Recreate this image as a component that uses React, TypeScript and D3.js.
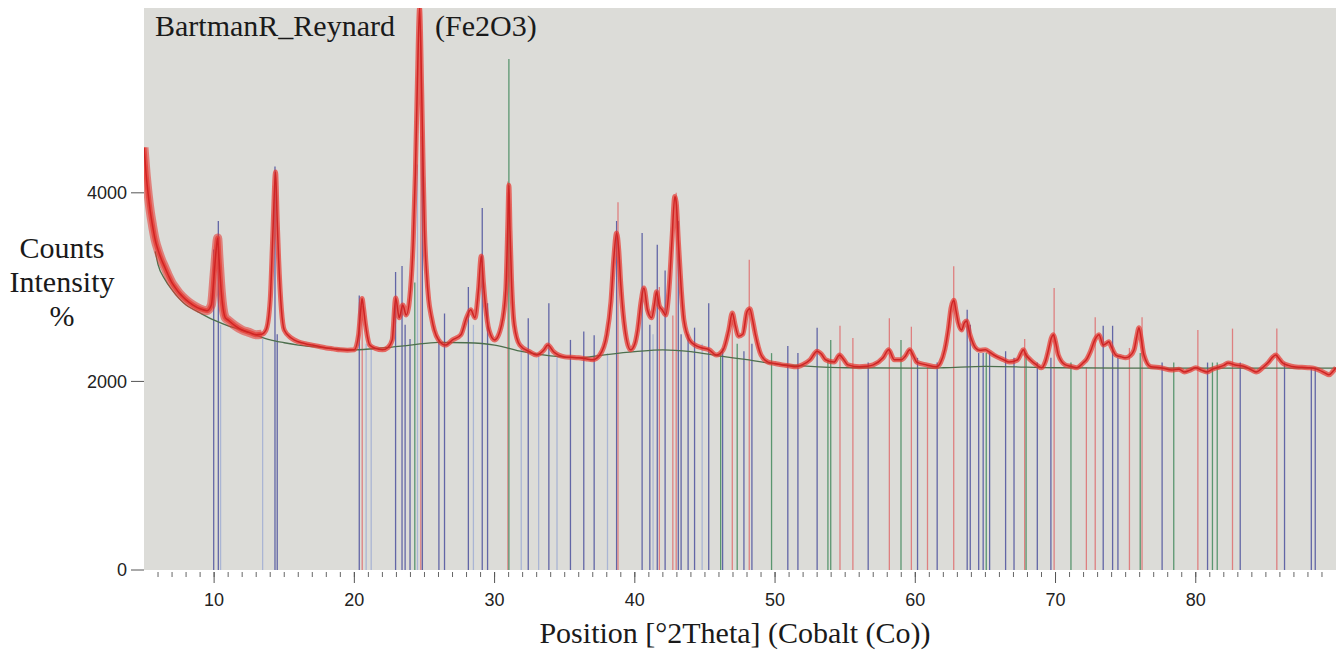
import React from "react";
import * as d3 from "d3";

const W = 1341;
const H = 653;

// Observed pattern [2theta, counts]
const observed: [number, number][] = [
  [5.0, 4480], [5.15, 4200], [5.3, 3980], [5.45, 3800], [5.6, 3660], [5.8, 3500], [6.0, 3395], [6.25, 3290], [6.5, 3205],
  [6.75, 3120], [7.0, 3045], [7.25, 2990], [7.5, 2940], [7.75, 2900], [8.0, 2865], [8.5, 2810], [9.0, 2770],
  [9.5, 2750], [9.8, 2810], [10.0, 3130], [10.15, 3400], [10.25, 3520], [10.35, 3300], [10.5, 2970],
  [10.8, 2675], [11.0, 2650], [11.5, 2590], [12.0, 2545], [12.5, 2520], [13.0, 2495], [13.4, 2500], [13.7, 2545],
  [14.0, 2865], [14.2, 3610], [14.38, 4220], [14.5, 3700], [14.6, 3300], [14.8, 2760], [15.0, 2545], [15.5, 2460],
  [16.0, 2420], [16.5, 2400], [17.0, 2385], [17.5, 2370], [18.0, 2355], [18.5, 2345], [19.0, 2335], [19.5, 2330],
  [20.0, 2335], [20.3, 2495], [20.45, 2750], [20.55, 2880], [20.65, 2780], [20.8, 2600], [21.1, 2385], [21.5, 2350],
  [22.0, 2335], [22.4, 2360], [22.7, 2440], [22.95, 2885], [23.2, 2675], [23.45, 2810], [23.7, 2705],
  [24.0, 2970], [24.2, 3500], [24.35, 4200], [24.5, 5200], [24.65, 5960], [24.8, 5090], [24.9, 4300],
  [25.0, 3610], [25.15, 3150], [25.3, 2865], [25.5, 2680], [25.7, 2545], [26.0, 2440], [26.5, 2385],
  [27.0, 2440], [27.6, 2495], [28.0, 2675], [28.3, 2760], [28.6, 2675], [28.85, 2970], [29.05, 3330],
  [29.2, 3050], [29.35, 2800], [29.6, 2545], [30.0, 2440], [30.5, 2600], [30.8, 2970], [30.95, 3700],
  [31.02, 4080], [31.1, 3600], [31.2, 3100], [31.4, 2600], [31.8, 2385], [32.5, 2315], [33.0, 2280],
  [33.5, 2330], [33.8, 2385], [34.2, 2315], [35.0, 2260], [35.5, 2255], [36.0, 2250], [36.5, 2240],
  [37.0, 2230], [37.5, 2280], [38.0, 2495], [38.3, 2850], [38.5, 3300], [38.7, 3575], [38.85, 3400],
  [39.0, 3025], [39.3, 2545], [39.7, 2335], [40.0, 2400], [40.2, 2545], [40.45, 2850], [40.65, 2990],
  [40.9, 2760], [41.2, 2675], [41.4, 2820], [41.55, 2950], [41.75, 2800], [41.95, 2760], [42.2, 2705],
  [42.45, 3000], [42.65, 3500], [42.85, 3960], [42.95, 3900], [43.1, 3500], [43.3, 3000], [43.5, 2650],
  [43.9, 2440], [44.3, 2385], [44.8, 2355], [45.3, 2335], [45.8, 2280], [46.3, 2335], [46.7, 2545],
  [46.95, 2725], [47.15, 2600], [47.4, 2480], [47.7, 2500], [48.0, 2740], [48.2, 2770], [48.4, 2650],
  [48.6, 2495], [49.0, 2280], [49.5, 2205], [50.0, 2190], [50.5, 2175], [51.0, 2165], [51.5, 2155],
  [52.0, 2180], [52.5, 2230], [53.0, 2320], [53.3, 2290], [53.6, 2230], [54.2, 2205], [54.6, 2280],
  [54.9, 2230], [55.2, 2175], [56.0, 2155], [56.5, 2160], [57.0, 2175], [57.7, 2250], [58.1, 2335],
  [58.5, 2230], [59.0, 2230], [59.3, 2270], [59.6, 2335], [59.9, 2260], [60.1, 2205], [60.8, 2175],
  [61.5, 2155], [61.8, 2200], [62.1, 2335], [62.35, 2550], [62.55, 2780], [62.75, 2860], [62.9, 2750],
  [63.05, 2630], [63.3, 2545], [63.5, 2620], [63.65, 2640], [63.9, 2495], [64.3, 2355], [64.6, 2330],
  [65.0, 2335], [65.3, 2310], [65.6, 2280], [66.3, 2230], [66.7, 2205], [67.3, 2230], [67.55, 2300],
  [67.7, 2335], [67.9, 2280], [68.2, 2230], [68.6, 2180], [69.0, 2145], [69.3, 2220], [69.5, 2335],
  [69.7, 2460], [69.85, 2495], [70.0, 2420], [70.2, 2280], [70.7, 2175], [71.1, 2160], [71.5, 2145],
  [72.0, 2200], [72.2, 2230], [72.5, 2320], [72.8, 2440], [73.1, 2495], [73.4, 2385], [73.6, 2400],
  [73.8, 2420], [74.0, 2360], [74.3, 2280], [74.7, 2260], [75.0, 2250], [75.3, 2270], [75.6, 2335],
  [75.8, 2480], [75.95, 2570], [76.1, 2460], [76.3, 2280], [76.8, 2155], [77.5, 2145], [78.3, 2120],
  [78.8, 2130], [79.2, 2100], [79.6, 2120], [80.0, 2145], [80.4, 2120], [80.8, 2100], [81.2, 2130],
  [81.5, 2145], [82.0, 2170], [82.3, 2195], [82.8, 2175], [83.5, 2155], [84.0, 2120], [84.3, 2100],
  [84.8, 2150], [85.2, 2205], [85.5, 2260], [85.7, 2280], [86.0, 2230], [86.2, 2195], [86.6, 2170],
  [87.0, 2155], [87.5, 2150], [88.0, 2145], [88.4, 2140], [88.8, 2120], [89.2, 2090], [89.5, 2070],
  [89.8, 2110], [90.0, 2145],
];

// Fitted background [2theta, counts]
const background: [number, number][] = [
  [5.8, 3380], [6.0, 3240], [6.5, 3080], [7.0, 2970], [7.5, 2880], [8.0, 2810], [8.5, 2765], [9.0, 2725],
  [10.0, 2650], [11.0, 2590], [12.0, 2545], [13.0, 2490], [14.0, 2440], [15.0, 2410], [16.0, 2385],
  [18.0, 2355], [20.0, 2335], [22.0, 2355], [24.0, 2385], [26.0, 2415], [28.0, 2410], [30.0, 2385],
  [32.0, 2315], [34.0, 2270], [36.0, 2250], [38.0, 2285], [40.0, 2315], [42.0, 2335], [44.0, 2315],
  [46.0, 2270], [48.0, 2230], [50.0, 2185], [52.0, 2165], [55.0, 2145], [60.0, 2140], [62.0, 2145],
  [65.0, 2160], [70.0, 2145], [75.0, 2140], [80.0, 2140], [85.0, 2140], [90.0, 2140],
];

// Reference pattern sticks: [2theta, height (counts), phase]
const sticks: [number, number, string][] = [
  [9.97, 3400, "b"], [10.3, 3700, "b"], [10.46, 2600, "l"], [13.46, 2450, "l"], [14.34, 4280, "b"], [14.5, 2500, "b"],
  [20.35, 2910, "b"], [20.56, 2800, "r"], [20.84, 2400, "l"], [21.2, 2350, "l"],
  [22.94, 3160, "b"], [23.4, 3225, "b"], [23.62, 2600, "b"], [23.97, 2450, "b"], [24.31, 3050, "g"],
  [24.5, 4300, "l"], [24.74, 5960, "r"], [24.85, 4600, "b"],
  [26.03, 2450, "b"], [26.43, 2720, "b"], [28.13, 3000, "b"], [28.49, 2600, "l"], [29.12, 3840, "b"],
  [29.5, 2830, "b"], [30.95, 4120, "r"], [31.02, 5420, "g"],
  [31.9, 2350, "l"], [32.4, 2670, "b"], [33.14, 2300, "l"], [33.87, 2830, "b"], [34.45, 2300, "l"],
  [35.41, 2440, "b"], [36.36, 2530, "b"], [37.1, 2490, "b"], [38.05, 2300, "l"], [38.7, 3700, "b"],
  [38.8, 3900, "r"], [40.52, 3575, "b"], [41.07, 2600, "b"], [41.3, 2500, "l"], [41.6, 3450, "b"],
  [41.75, 3000, "r"], [42.16, 3175, "b"], [42.71, 2700, "r"], [42.95, 4000, "r"], [43.1, 3700, "b"],
  [43.3, 2500, "b"], [43.8, 2500, "b"], [44.26, 2570, "b"], [44.8, 2400, "l"], [45.27, 2830, "b"],
  [46.12, 2300, "g"], [46.26, 2350, "b"], [46.95, 2650, "r"], [47.3, 2400, "g"], [47.78, 2320, "b"],
  [48.16, 3290, "r"], [48.35, 2400, "b"],
  [49.75, 2300, "g"], [50.91, 2375, "b"], [51.63, 2300, "b"], [53.0, 2570, "b"], [53.77, 2230, "g"],
  [53.97, 2440, "g"], [54.63, 2590, "r"], [55.55, 2460, "r"], [56.64, 2200, "b"], [58.15, 2670, "r"],
  [58.98, 2440, "g"], [59.72, 2580, "r"], [60.16, 2250, "b"], [60.87, 2150, "r"], [61.56, 2200, "b"],
  [62.74, 3220, "r"], [63.7, 2760, "b"], [63.92, 2600, "b"], [64.52, 2300, "b"], [64.84, 2300, "b"],
  [65.06, 2300, "g"], [65.3, 2300, "b"], [66.44, 2320, "b"], [67.04, 2250, "b"], [67.8, 2450, "r"],
  [67.9, 2300, "g"], [68.7, 2200, "b"], [69.67, 2250, "b"], [69.9, 2990, "r"], [71.1, 2200, "g"],
  [72.2, 2150, "r"], [72.83, 2680, "r"], [73.4, 2590, "b"], [74.07, 2590, "b"], [74.45, 2250, "b"],
  [75.27, 2355, "r"], [76.04, 2300, "g"], [76.17, 2680, "r"], [77.6, 2200, "b"], [78.43, 2200, "g"],
  [80.15, 2546, "r"], [80.84, 2200, "b"], [81.19, 2200, "g"], [81.53, 2200, "g"], [82.62, 2560, "r"],
  [83.17, 2200, "b"], [85.78, 2560, "r"], [86.33, 2200, "b"], [88.24, 2150, "b"], [88.52, 2150, "b"],
];

const phaseColors: Record<string, string> = {
  b: "#6266a6",
  l: "#aab5d4",
  r: "#de8080",
  g: "#5a9670",
};

const yTicks = [0, 2000, 4000];
const xMajor = [10, 20, 30, 40, 50, 60, 70, 80];
const xMinor = d3.range(6, 90, 1);

export default function App() {
  const x = d3.scaleLinear().domain([5, 90]).range([144, 1336]);
  const y = d3.scaleLinear().domain([0, 5960]).range([570, 8]);
  const line = d3
    .line<[number, number]>()
    .x((d) => x(d[0]))
    .y((d) => y(d[1]))
    .curve(d3.curveMonotoneX);

  const sans = "'Liberation Sans', Arial, sans-serif";
  const serif = "'Liberation Serif', 'Times New Roman', serif";
  const lowAngle = observed.filter((d) => d[0] <= 13.5);
  const obsPath = line(observed) || "";

  return (
    <svg
      width={W}
      height={H}
      style={{ position: "absolute", left: 0, top: 0, background: "#fff" }}
    >
      <defs>
        <clipPath id="plotclip">
          <rect x={144} y={8} width={1192} height={562} />
        </clipPath>
      </defs>
      <rect x={144} y={8} width={1192} height={562} fill="#dcdcd8" />
      <g clipPath="url(#plotclip)">
        {sticks.map((s, i) => (
          <line
            key={i}
            x1={x(s[0])}
            x2={x(s[0])}
            y1={y(0)}
            y2={y(s[1])}
            stroke={phaseColors[s[2]]}
            strokeWidth={1.3}
          />
        ))}
        <path d={line(background) || ""} fill="none" stroke="#4d6f4d" strokeWidth={1.3} />
        <path
          d={line(lowAngle) || ""}
          fill="none"
          stroke="#e43530"
          strokeOpacity={0.55}
          strokeWidth={9}
          strokeLinejoin="round"
        />
        <path
          d={obsPath}
          fill="none"
          stroke="#e8362f"
          strokeOpacity={0.7}
          strokeWidth={5}
          strokeLinejoin="round"
        />
        <path
          d={obsPath}
          fill="none"
          stroke="#cf2424"
          strokeWidth={1.5}
          strokeLinejoin="round"
        />
      </g>
      {/* Y axis */}
      {yTicks.map((t) => (
        <g key={t}>
          <line x1={131} x2={144} y1={y(t)} y2={y(t)} stroke="#555" strokeWidth={1} />
          <text
            x={127}
            y={y(t)}
            dy="0.35em"
            textAnchor="end"
            fontFamily={sans}
            fontSize={18}
            fill="#222"
          >
            {t}
          </text>
        </g>
      ))}
      {/* X axis */}
      {xMinor.map((t) => (
        <line key={"m" + t} x1={x(t)} x2={x(t)} y1={572} y2={577} stroke="#666" strokeWidth={1} />
      ))}
      {xMajor.map((t) => (
        <g key={"M" + t}>
          <line x1={x(t)} x2={x(t)} y1={572} y2={583} stroke="#555" strokeWidth={1} />
          <text
            x={x(t)}
            y={606}
            textAnchor="middle"
            fontFamily={sans}
            fontSize={18}
            fill="#222"
          >
            {t}
          </text>
        </g>
      ))}
      {/* Titles */}
      <text x={155} y={36} fontFamily={serif} fontSize={30} fill="#1a1a1a">
        BartmanR_Reynard
      </text>
      <text x={435} y={36} fontFamily={serif} fontSize={30} fill="#1a1a1a">
        (Fe2O3)
      </text>
      <g fontFamily={serif} fontSize={30} fill="#1a1a1a" textAnchor="middle">
        <text x={62} y={258}>Counts</text>
        <text x={62} y={292}>Intensity</text>
        <text x={62} y={326}>%</text>
      </g>
      <text
        x={735}
        y={643}
        textAnchor="middle"
        fontFamily={serif}
        fontSize={30}
        fill="#1a1a1a"
      >
        Position [°2Theta] (Cobalt (Co))
      </text>
    </svg>
  );
}
